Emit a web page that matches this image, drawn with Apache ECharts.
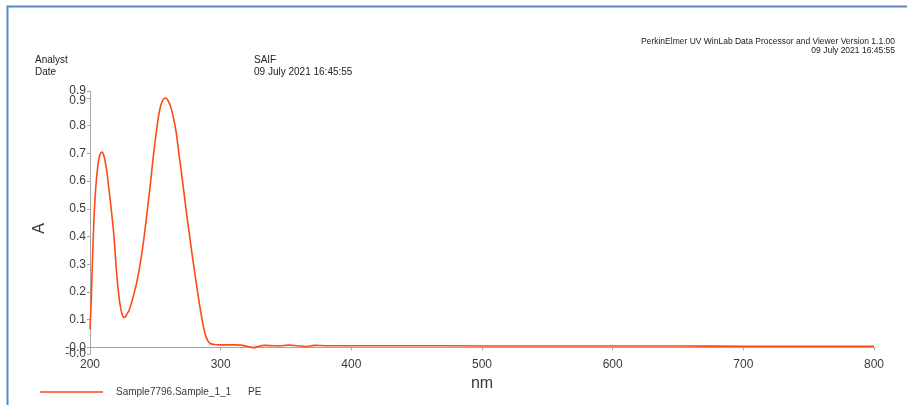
<!DOCTYPE html>
<html>
<head>
<meta charset="utf-8">
<script src="https://cdn.jsdelivr.net/npm/echarts@6/dist/echarts.min.js"></script>
<style>
  html, body { margin: 0; padding: 0; background: #fff; }
  #chart { width: 907px; height: 405px; }
</style>
</head>
<body>
<div id="chart"></div>
<script>
// UV-Vis absorbance spectrum, wavelength (nm) vs absorbance (A)
const wavelength = [
  200, 201, 202, 203, 204, 205, 206, 207, 208, 209, 210, 211, 212, 213, 214, 215,
  216, 217, 218, 219, 220, 221, 222, 223, 224, 225, 226, 227, 228, 230, 232, 234,
  236, 238, 240, 242, 244, 246, 248, 250, 252, 254, 256, 258, 260, 262, 264, 266,
  268, 270, 272, 274, 276, 278, 280, 282, 284, 286, 288, 290, 292, 295, 300, 305,
  310, 315, 320, 325, 328, 333, 340, 345, 352, 358, 365, 372, 380, 400, 450, 500,
  550, 600, 650, 700, 750, 800
];
const absorbance = [
  0.065, 0.18, 0.33, 0.46, 0.55, 0.61, 0.655, 0.685, 0.70, 0.705, 0.70, 0.685, 0.66, 0.63, 0.59, 0.55,
  0.51, 0.465, 0.42, 0.36, 0.29, 0.235, 0.19, 0.155, 0.13, 0.113, 0.108, 0.11, 0.118, 0.135, 0.165, 0.20,
  0.24, 0.29, 0.35, 0.42, 0.50, 0.58, 0.67, 0.75, 0.82, 0.87, 0.895, 0.90, 0.888, 0.865, 0.825, 0.775,
  0.70, 0.63, 0.555, 0.48, 0.41, 0.34, 0.275, 0.21, 0.15, 0.095, 0.05, 0.025, 0.014, 0.010, 0.009, 0.009,
  0.009, 0.008, 0.004, -0.001, 0.002, 0.007, 0.006, 0.005, 0.008, 0.006, 0.003, 0.007, 0.006, 0.006, 0.006, 0.005,
  0.005, 0.005, 0.005, 0.004, 0.004, 0.004
];

// Axis limits and tick positions
const xMin = 200, xMax = 800, xStep = 100;
const yMin = -0.024, yMax = 0.925;
const yTicks = [0, 0.1, 0.2, 0.3, 0.4, 0.5, 0.6, 0.7, 0.8, 0.9];
const yEdgeTicks = [yMin, yMax];

const seriesName = 'Sample7796.Sample_1_1';
const sampleTag = 'PE';
const analyst = 'SAIF';
const reportDate = '09 July 2021 16:45:55';
const softwareName = 'PerkinElmer UV WinLab Data Processor and Viewer Version 1.1.00';

const points = wavelength.map((w, i) => [w, absorbance[i]]);

const lineColor = '#ff4a12';
const axisGray = '#a6a6a6';
const labelColor = '#3a3a3a';
const font = 'Liberation Sans, Arial, sans-serif';

// absorbance labels print with one decimal; values at or below zero read "-0.0"
const fmtA = v => (v <= 0.0001 ? '-0.0' : v.toFixed(1));
// the last regular tick label sits a little lower so it clears the range-end label
const fmtTick = v => (Math.abs(v - 0.9) < 1e-9 ? '{low|' + fmtA(v) + '}' : fmtA(v));

const yLabelStyle = { fontSize: 12, color: labelColor, fontFamily: font, margin: 4 };

const chart = echarts.init(document.getElementById('chart'), null, { renderer: 'canvas' });

chart.setOption({
  backgroundColor: '#ffffff',
  animation: false,
  grid: { left: 90, right: 33, top: 91, bottom: 51, containLabel: false },
  xAxis: {
    type: 'value',
    min: xMin, max: xMax, interval: xStep,
    name: 'nm', nameLocation: 'middle', nameGap: 15,
    nameTextStyle: { fontSize: 16, color: labelColor, fontFamily: font },
    axisLine: { lineStyle: { color: axisGray, width: 1 } },
    axisTick: { length: 3, lineStyle: { color: axisGray } },
    axisLabel: { fontSize: 12, color: labelColor, fontFamily: font, margin: 5 },
    splitLine: { show: false }
  },
  yAxis: [{
    type: 'value',
    min: yMin, max: yMax,
    name: 'A', nameLocation: 'middle', nameGap: 42, nameRotate: 90,
    nameTextStyle: { fontSize: 16, color: labelColor, fontFamily: font, padding: [0, 0, 0, -12] },
    axisLine: { show: true, lineStyle: { color: axisGray, width: 1 } },
    axisTick: { show: true, length: 3, lineStyle: { color: axisGray }, customValues: yTicks },
    axisLabel: Object.assign({
      customValues: yTicks, formatter: fmtTick, hideOverlap: false,
      rich: { low: { fontSize: 12, color: labelColor, fontFamily: font, padding: [6, 0, 0, 0] } }
    }, yLabelStyle),
    splitLine: { show: false }
  }, {
    // range end labels, drawn on the same left edge
    type: 'value', position: 'left', offset: 0,
    min: yMin, max: yMax,
    axisLine: { show: false },
    axisTick: { show: true, length: 3, lineStyle: { color: axisGray }, customValues: yEdgeTicks },
    axisLabel: Object.assign({
      customValues: yEdgeTicks, formatter: fmtA,
      showMinLabel: true, showMaxLabel: true, hideOverlap: false
    }, yLabelStyle),
    splitLine: { show: false }
  }],
  legend: {
    left: 40, top: 387, padding: 0,
    itemWidth: 63, itemHeight: 1.5, icon: 'rect',
    data: [seriesName],
    formatter: name => '{n|' + name + '}{t|' + sampleTag + '}',
    textStyle: {
      fontSize: 10, color: labelColor, fontFamily: font,
      padding: [0, 0, 0, 8],
      rich: {
        n: { fontSize: 10, color: labelColor, fontFamily: font },
        t: { fontSize: 10, color: labelColor, fontFamily: font, padding: [0, 0, 0, 17] }
      }
    }
  },
  series: [{
    name: seriesName,
    type: 'line',
    data: points,
    smooth: 0.3,
    showSymbol: false,
    symbol: 'none',
    lineStyle: { color: lineColor, width: 1.6 },
    itemStyle: { color: lineColor }
  }],
  graphic: [
    { type: 'polyline', silent: true,
      shape: { points: [[7.5, 410], [7.5, 6.5], [912, 6.5]] },
      style: { stroke: '#5a86c4', lineWidth: 2, fill: null } },
    { type: 'text', left: 35, top: 55,
      style: { text: 'Analyst', fontSize: 10, fill: '#222', fontFamily: font } },
    { type: 'text', left: 35, top: 67,
      style: { text: 'Date', fontSize: 10, fill: '#222', fontFamily: font } },
    { type: 'text', left: 254, top: 55,
      style: { text: analyst, fontSize: 10, fill: '#222', fontFamily: font } },
    { type: 'text', left: 254, top: 67,
      style: { text: reportDate, fontSize: 10, fill: '#222', fontFamily: font } },
    { type: 'text', right: 12, top: 37,
      style: { text: softwareName, fontSize: 8.5, fill: '#222', fontFamily: font, align: 'right' } },
    { type: 'text', right: 12, top: 46,
      style: { text: reportDate, fontSize: 8.5, fill: '#222', fontFamily: font, align: 'right' } }
  ]
});
</script>
</body>
</html>
